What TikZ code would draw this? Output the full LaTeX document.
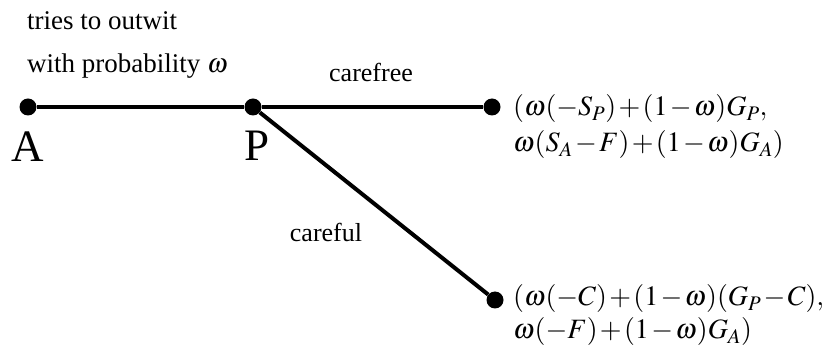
\documentclass[tikz,border=0pt]{standalone}
\usepackage{mathptmx}
\usepackage[no-math]{fontspec}
\setmainfont{Liberation Serif}
\usetikzlibrary{positioning}
\newcommand{\payspace}{\medmuskip=1.5mu plus 1mu\thickmuskip=2mu plus 1mu\relax}

\begin{document}
\begin{tikzpicture}[
    x=1pt, y=-1pt,
    dot/.style={circle, fill, inner sep=0pt, minimum size=17pt},
    branch/.style={line width=4pt},
    lbl/.style={inner sep=0pt, anchor=base west, font=\fontsize{27}{30}\selectfont},
    move/.style={inner sep=0pt, anchor=base, font=\fontsize{26}{30}\selectfont},
    player/.style={inner sep=0pt, anchor=base, font=\fontsize{45}{50}\selectfont},
    payoff/.style={inner sep=0pt, anchor=base west, font=\fontsize{28}{32}\selectfont}
]
\useasboundingbox (0,0) rectangle (828,363);

% decision points and end points
\node[dot] (a) at (28,107) {};
\node[dot] (p) at (253,107) {};
\node[dot] (top) at (492,107) {};
\node[dot] (bot) at (495,300) {};

\draw[branch] (a) -- (p);
\draw[branch] (p) -- (top);
\draw[branch] (p) -- (bot);

% players
\node[player] (la) at (28,162) {A};
\node[player] (lp) at (257,161) {P};

% moves
\node[lbl] (outwit) at (27,30) {tries to outwit};
\node[lbl] (prob) at (27,73) {with probability $\omega$};
\node[move] (free) at (371,82) {carefree};
\node[move] (ful) at (326,242) {careful};

% payoffs
\node[payoff] (u1) at (513,116) {$\payspace(\omega(-S_P)+(1-\omega)G_P,$};
\node[payoff] (u2) at (513,152) {$\payspace\omega(S_A-F)+(1-\omega)G_A)$};
\node[payoff] (v1) at (513,306) {$\payspace(\omega(-C)+(1-\omega)(G_P-C),$};
\node[payoff] (v2) at (513,339) {$\payspace\omega(-F)+(1-\omega)G_A)$};
\end{tikzpicture}
\end{document}
